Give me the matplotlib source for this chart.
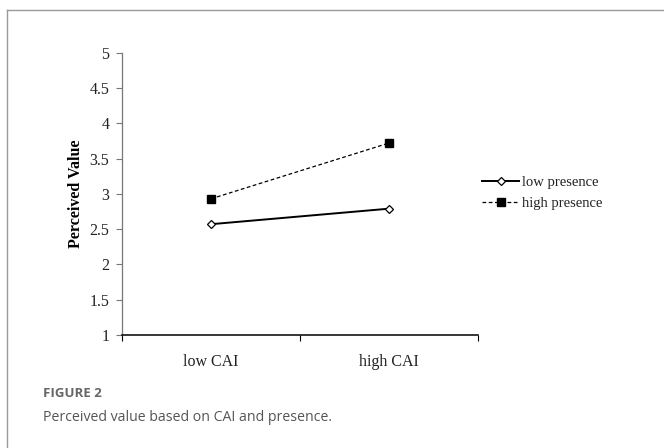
"""Perceived value by CAI level and presence (interaction plot)."""

import matplotlib
matplotlib.use("Agg")
import matplotlib.pyplot as plt
from matplotlib.lines import Line2D

# data
categories = ["low CAI", "high CAI"]
low_presence = [2.57, 2.79]
high_presence = [2.93, 3.72]
y_ticks = [1, 1.5, 2, 2.5, 3, 3.5, 4, 4.5, 5]
y_tick_labels = ["1", "1.5", "2", "2.5", "3", "3.5", "4", "4.5", "5"]

serif = ["Liberation Serif", "DejaVu Serif"]


def main() -> None:
    fig = plt.figure(figsize=(6.64, 4.48), dpi=100)

    # outer frame (left and top gray border)
    fig.add_artist(Line2D([7 / 664, 7 / 664], [0, 1 - 10 / 448],
                          transform=fig.transFigure, color="#999999", lw=1.0))
    fig.add_artist(Line2D([7 / 664, 1], [1 - 10 / 448, 1 - 10 / 448],
                          transform=fig.transFigure, color="#999999", lw=1.0))

    ax = fig.add_axes([122 / 664, 1 - 335 / 448, (478 - 122) / 664, (335 - 52.7) / 448])

    xs = [i + 0.5 for i in range(len(categories))]
    ax.plot(xs, low_presence, color="black", lw=1.4, marker="D", markersize=4.5,
            markerfacecolor="white", markeredgecolor="black", markeredgewidth=0.9,
            label="low presence")
    ax.plot(xs, high_presence, color="black", lw=0.9, ls=(0, (3, 2)), marker="s",
            markersize=6, markerfacecolor="black", markeredgecolor="black",
            label="high presence")

    ax.set_xlim(0, len(categories))
    ax.set_ylim(1, 5)
    ax.set_yticks(y_ticks)
    ax.set_yticklabels(y_tick_labels, family=serif, fontsize=11.5, color="#222222")
    ax.set_xticks(range(len(categories) + 1))
    ax.set_xticklabels([""] * (len(categories) + 1))
    ax.set_xticks(xs, minor=True)
    ax.set_xticklabels(categories, minor=True, family=serif, fontsize=11.5, color="#222222")
    ax.tick_params(axis="x", which="minor", length=0, pad=14)
    ax.tick_params(axis="x", which="major", direction="out", length=4, width=0.8)
    ax.tick_params(axis="y", direction="out", length=4, width=0.8, color="#777777", pad=5)

    for side in ("top", "right"):
        ax.spines[side].set_visible(False)
    ax.spines["left"].set_color("#777777")
    ax.spines["left"].set_linewidth(0.9)
    ax.spines["bottom"].set_color("black")
    ax.spines["bottom"].set_linewidth(1.1)

    ax.set_ylabel("Perceived Value", family=serif, fontweight="bold", fontsize=11.5,
                  labelpad=4)

    leg = ax.legend(loc="center left", bbox_to_anchor=(1.011, 0.503), frameon=False,
                    prop={"family": serif, "size": 10.5}, handlelength=2.55,
                    handletextpad=0.2, labelspacing=0.5, borderpad=0,
                    borderaxespad=0)
    for t in leg.get_texts():
        t.set_color("#222222")

    fig.text(43 / 664, 1 - 393 / 448, "FIGURE 2", family="Open Sans", fontsize=9.5,
             fontweight="bold", color="#666666", va="center")
    fig.text(43 / 664, 1 - 417 / 448, "Perceived value based on CAI and presence.",
             family="Open Sans", fontsize=10.2, color="#555555", va="center")

    fig.savefig("out.png", dpi=100)


if __name__ == "__main__":
    main()
